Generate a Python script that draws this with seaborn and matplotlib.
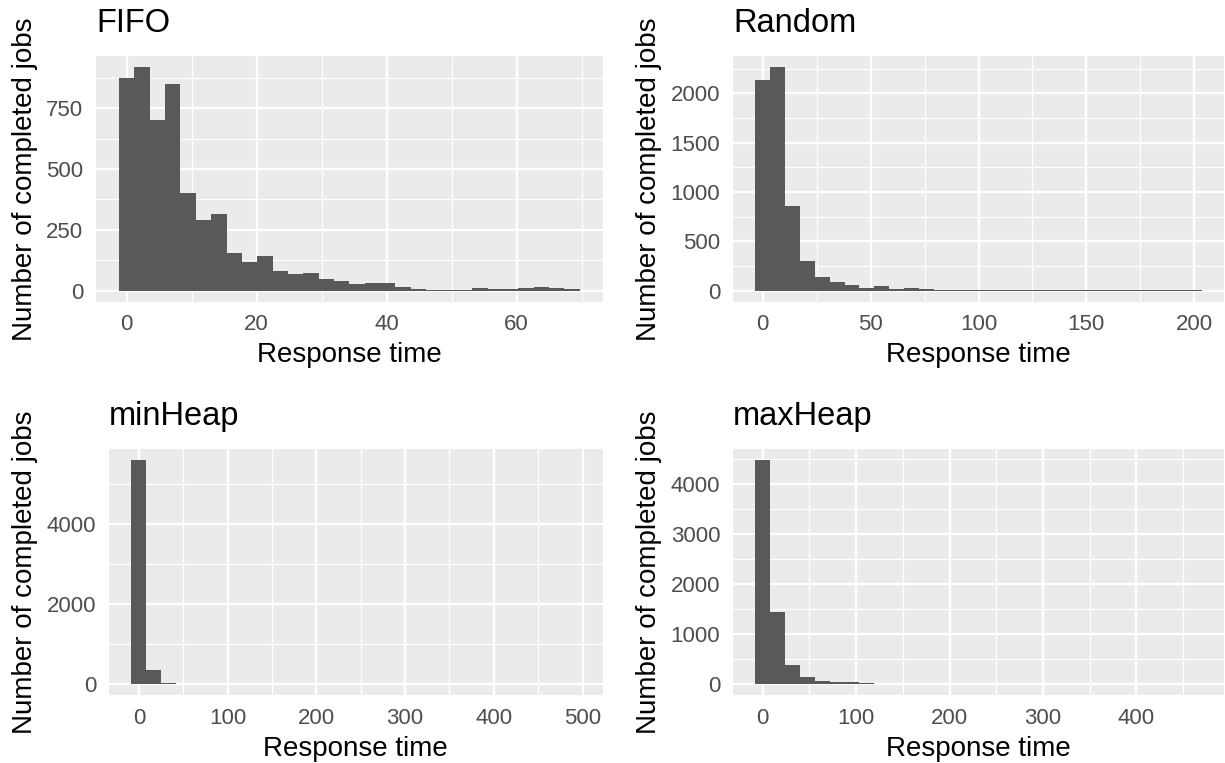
import numpy as np
import matplotlib
matplotlib.use("Agg")
import matplotlib.pyplot as plt
import seaborn as sns
from matplotlib.ticker import MultipleLocator

# ---- data ----
panels = ["FIFO", "Random", "minHeap", "maxHeap"]

fifo_range = (0.0, 68.5)
fifo_counts = [874, 919, 701, 850, 400, 289, 315, 154, 117, 144, 80, 66, 74, 47, 38,
               25, 29, 33, 16, 8, 2, 2, 1, 12, 7, 8, 12, 16, 12, 5]

random_range = (0.0, 200.0)
random_counts = [2139, 2266, 853, 303, 139, 88, 58, 27, 48, 17, 27, 17, 5, 5, 5,
                 5, 2, 2, 2, 1, 1, 1, 1, 1, 1, 1, 1, 1, 1, 1]

minheap_range = (0.0, 489.0)
minheap_counts = [5595, 334, 25, 5, 3, 2, 2, 1, 1, 1, 1, 1, 1, 1, 1,
                  1, 1, 1, 1, 1, 1, 1, 1, 1, 1, 1, 1, 1, 1, 1]

maxheap_range = (0.0, 462.0)
maxheap_counts = [4474, 1429, 367, 127, 47, 27, 27, 20, 3, 2, 2, 2, 1, 1, 1,
                  1, 1, 1, 1, 1, 1, 1, 1, 1, 1, 1, 1, 1, 1, 1]

x_major = [20, 50, 100, 100]
y_major = [250, 500, 2000, 1000]

x_label = "Response time"
y_label = "Number of completed jobs"

# ---- styling ----
sns.set_theme(style="darkgrid")
plt.rcParams["font.family"] = ["Liberation Sans", "DejaVu Sans"]

W, H = 1225, 763
fig = plt.figure(figsize=(W / 100, H / 100), dpi=100)
fig.patch.set_facecolor("white")

boxes = [(96, 56, 602.7, 301.7), (733, 56, 1224, 301.7),
         (109, 449, 602.7, 695), (733, 449, 1224, 695)]
ranges = [fifo_range, random_range, minheap_range, maxheap_range]
counts_all = [fifo_counts, random_counts, minheap_counts, maxheap_counts]

for i, name in enumerate(panels):
    l, t, r, b = boxes[i]
    ax = fig.add_axes([l / W, 1 - b / H, (r - l) / W, (b - t) / H])
    lo, hi = ranges[i]
    counts = np.array(counts_all[i], dtype=float)
    n = len(counts)
    centers = np.linspace(lo, hi, n)
    w = (hi - lo) / (n - 1)
    brange = (lo - w / 2, hi + w / 2)
    sns.histplot(x=centers, weights=counts, bins=n, binrange=brange,
                 color="#595959", alpha=1, linewidth=0, edgecolor="none", ax=ax)
    span = brange[1] - brange[0]
    ax.set_xlim(brange[0] - 0.05 * span, brange[1] + 0.05 * span)
    ymax = counts.max()
    ax.set_ylim(-0.05 * ymax, ymax * 1.05)

    ax.set_facecolor("#EBEBEB")
    ax.xaxis.set_major_locator(MultipleLocator(x_major[i]))
    ax.xaxis.set_minor_locator(MultipleLocator(x_major[i] / 2))
    ax.yaxis.set_major_locator(MultipleLocator(y_major[i]))
    ax.yaxis.set_minor_locator(MultipleLocator(y_major[i] / 2))
    ax.grid(which="major", color="white", linewidth=1.6)
    ax.grid(which="minor", color="white", linewidth=0.8)
    ax.set_axisbelow(True)
    for s in ax.spines.values():
        s.set_visible(False)
    ax.tick_params(axis="both", which="major", length=5.2, width=1.1, color="#333333",
                   labelcolor="#4D4D4D", labelsize=16, pad=4.0)
    ax.tick_params(axis="both", which="minor", length=0)
    ax.set_xlabel(x_label, fontsize=20, color="black", labelpad=5)
    ax.set_ylabel(y_label, fontsize=20, color="black", labelpad=6)
    ax.set_title(name, loc="left", fontsize=23.5, color="black", pad=17)

fig.savefig("out.png", dpi=100, facecolor="white")
